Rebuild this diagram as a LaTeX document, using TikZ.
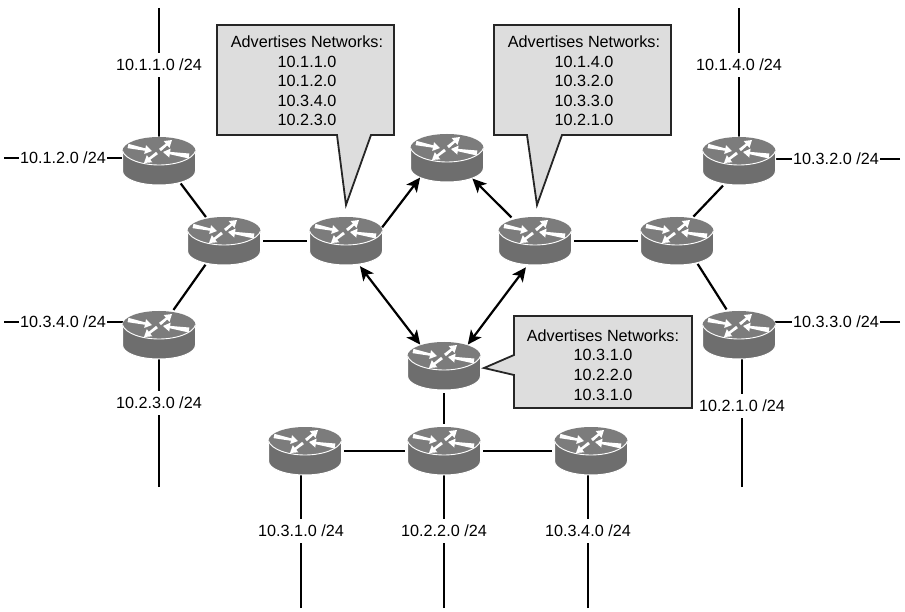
\documentclass[tikz,border=0pt]{standalone}
\usepackage{fontspec}
\setmainfont{Liberation Sans}
\usetikzlibrary{arrows.meta,shapes.geometric}
\definecolor{rtop}{HTML}{7C7C7C}
\definecolor{rside}{HTML}{6E6E6E}
\definecolor{cfill}{HTML}{DDDDDD}
\newcommand\rtaper[5]{%
  \fill[white,shift={(#1,#2)},rotate=#3]
    (0,-#5) -- (#4-7,-1.2) -- (#4-7,-4.5) -- (#4,0) -- (#4-7,4.5) -- (#4-7,1.2) -- (0,#5) -- cycle;}
\tikzset{
  routernode/.style={ellipse,minimum width=78pt,minimum height=54pt,inner sep=0pt,outer sep=0pt},
  link/.style={line width=2.2pt,black},
  biarrow/.style={line width=2.2pt,black,{Stealth[length=14pt,width=13pt,inset=3.5pt]}-{Stealth[length=14pt,width=13pt,inset=3.5pt]}},
  onearrow/.style={line width=2.2pt,black,-{Stealth[length=14pt,width=13pt,inset=3.5pt]}},
  netlabel/.style={fill=white,inner xsep=1.5pt,inner ysep=6pt,font=\fontsize{16.2}{19.6}\selectfont},
  callbox/.style={draw=black!85,line width=1.8pt,fill=cfill,line join=miter},
  calltext/.style={align=center,inner sep=0pt,font=\fontsize{16.2}{19.6}\selectfont},
  routericon/.pic={
    \filldraw[rside,draw=white,line width=1pt] (-36.5,-10) -- (-36.5,10) .. controls (-36.5,18) and (-20,24) .. (0,24) .. controls (20,24) and (36.5,18) .. (36.5,10) -- (36.5,-10) .. controls (36.5,-18) and (20,-24) .. (0,-24) .. controls (-20,-24) and (-36.5,-18) .. (-36.5,-10) -- cycle;
    \fill[rtop] (0,-10) ellipse[x radius=36.5,y radius=14];
    \draw[white,line width=0.9pt] (-36.5,-10) .. controls (-34,-2) and (-18,4) .. (0,4) .. controls (18,4) and (34,-2) .. (36.5,-10);
    \rtaper{-31}{-15}{-11.8}{24.5}{2.2}
    \rtaper{1}{-11}{39.8}{15.6}{1.5}
    \rtaper{-2}{-8}{217.6}{16.4}{1.5}
    \rtaper{30}{-5}{171.3}{26.3}{2.5}
  }
}
\begin{document}
\begin{tikzpicture}[x=1pt,y=-1pt]
\useasboundingbox (0,0) rectangle (905,612);
% router anchors
\node[routernode] (r1) at (159,161) {};
\node[routernode] (r2) at (224,241) {};
\node[routernode] (r3) at (346,241) {};
\node[routernode] (r4) at (447,158) {};
\node[routernode] (r5) at (535,241) {};
\node[routernode] (r6) at (677,241) {};
\node[routernode] (r7) at (739,161) {};
\node[routernode] (r8) at (739,335) {};
\node[routernode] (r9) at (159,335) {};
\node[routernode] (r10) at (444,366) {};
\node[routernode] (r11) at (305,451) {};
\node[routernode] (r12) at (444,451) {};
\node[routernode] (r13) at (591,451) {};
% free ends
\coordinate (e1) at (159,8);
\coordinate (e2) at (4,158);
\coordinate (e3) at (4,322);
\coordinate (e4) at (159,487);
\coordinate (e5) at (739,8);
\coordinate (e6) at (900,159);
\coordinate (e7) at (900,322);
\coordinate (e8) at (742,487);
\coordinate (e9) at (301,608);
\coordinate (e10) at (444,608);
\coordinate (e11) at (588,608);
% stub links
\draw[link] (e1) -- (e1 |- r1.center);
\draw[link] (e2) -- (e2 -| r1.center);
\draw[link] (e3) -- (e3 -| r9.center);
\draw[link] (e4) -- (e4 |- r9.center);
\draw[link] (e5) -- (e5 |- r7.center);
\draw[link] (e6) -- (e6 -| r7.center);
\draw[link] (e7) -- (e7 -| r8.center);
\draw[link] (e8) -- (e8 |- r8.center);
\draw[link] (e9) -- (e9 |- r11.center);
\draw[link] (e10) -- (e10 |- r12.center);
\draw[link] (e11) -- (e11 |- r13.center);
% router links
\draw[link] (r1.-46) -- (r2.127);
\draw[link] (r2.232) -- (r9.60.5);
\draw[link] (r2) -- (r3);
\draw[link] (r5) -- (r6);
\draw[link] (r6.56) -- (r7.237);
\draw[link] (r6.-48) -- (r8.116.5);
\draw[link] (r10) -- (r12);
\draw[link] (r11) -- (r12);
\draw[link] (r12) -- (r13);
% icons
\foreach \r in {r1,r2,r3,r4,r5,r6,r7,r8,r9,r10,r11,r12,r13} \pic at (\r) {routericon};
% arrows
\draw[onearrow,shorten <=2pt] (r3.19) -- (r4.216.5);
\draw[onearrow,shorten <=2pt] (r5.135) -- (r4.-39);
\draw[biarrow] (r3.-61) -- (r10.138.5);
\draw[biarrow] (r5.251) -- (r10.42.7);
% labels
\node[netlabel] (l1) at (159,65) {10.1.1.0 /24};
\node[netlabel] (l2) at (63,158) {10.1.2.0 /24};
\node[netlabel] (l3) at (63,322) {10.3.4.0 /24};
\node[netlabel] (l4) at (159,403) {10.2.3.0 /24};
\node[netlabel] (l5) at (739,65) {10.1.4.0 /24};
\node[netlabel] (l6) at (836,159) {10.3.2.0 /24};
\node[netlabel] (l7) at (836,322) {10.3.3.0 /24};
\node[netlabel] (l8) at (742,406) {10.2.1.0 /24};
\node[netlabel] (l9) at (301,531) {10.3.1.0 /24};
\node[netlabel] (l10) at (444,531) {10.2.2.0 /24};
\node[netlabel] (l11) at (588,531) {10.3.4.0 /24};
% callouts
\draw[callbox] (217,25) -- (394,25) -- (394,135) -- (371,135) -- (346,205) -- (337,135) -- (217,135) -- cycle;
\node[calltext] (c1) at (307,81) {Advertises Networks:\\10.1.1.0\\10.1.2.0\\10.3.4.0\\10.2.3.0};
\draw[callbox] (494,25) -- (671,25) -- (671,135) -- (562,135) -- (537,205) -- (527,135) -- (494,135) -- cycle;
\node[calltext] (c2) at (584,81) {Advertises Networks:\\10.1.4.0\\10.3.2.0\\10.3.3.0\\10.2.1.0};
\draw[callbox] (514,316) -- (692,316) -- (692,408) -- (514,408) -- (514,375) -- (484,368) -- (514,355) -- cycle;
\node[calltext] (c3) at (603,365) {Advertises Networks:\\10.3.1.0\\10.2.2.0\\10.3.1.0};
\end{tikzpicture}
\end{document}
